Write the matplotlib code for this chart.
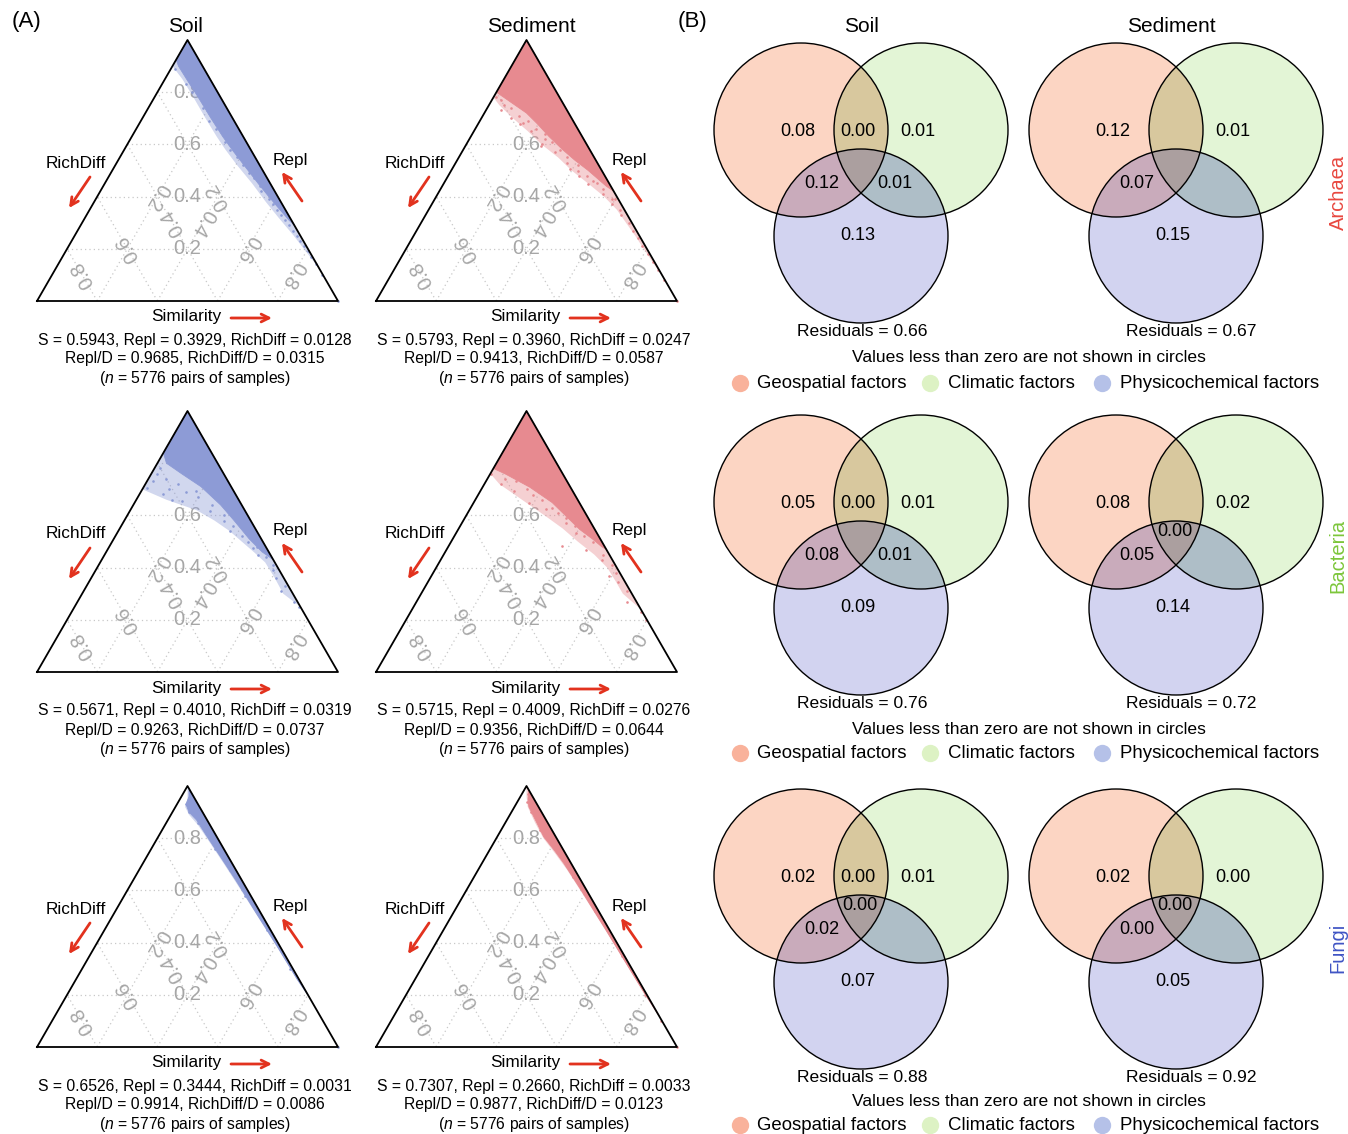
""" Beta-diversity partitioning triangles (A) and variation partitioning Venn diagrams (B). """

import numpy as np
import matplotlib
matplotlib.use('Agg')
import matplotlib.pyplot as plt
from matplotlib.patches import Circle, Polygon

plt.rcParams['font.family'] = ['Liberation Sans', 'DejaVu Sans']
plt.rcParams['mathtext.fontset'] = 'custom'
plt.rcParams['mathtext.it'] = 'Liberation Sans:italic'
plt.rcParams['mathtext.rm'] = 'Liberation Sans'

# Panels run row by row: Soil / Sediment for Archaea, Bacteria, Fungi
habitats = ['Soil', 'Sediment']
groups = ['Archaea', 'Bacteria', 'Fungi']
group_colors = ['#e8473f', '#7cc63a', '#3f54c4']

# ---- (A) mean components of the pairwise beta diversity
mean_S = [0.5943, 0.5793, 0.5671, 0.5715, 0.6526, 0.7307]
mean_repl = [0.3929, 0.3960, 0.4010, 0.4009, 0.3444, 0.2660]
mean_richdiff = [0.0128, 0.0247, 0.0319, 0.0276, 0.0031, 0.0033]
repl_over_D = [0.9685, 0.9413, 0.9263, 0.9356, 0.9914, 0.9877]
richdiff_over_D = [0.0315, 0.0587, 0.0737, 0.0644, 0.0086, 0.0123]
n_pairs = 5776

# Outer limit of each point cloud: (Similarity, RichDiff) pairs running down
# from the top corner; the rest of the outline is the Repl edge (RichDiff = 0).
cloud_outer = [
    ([1.0, 0.90, 0.85, 0.78, 0.70, 0.63, 0.58, 0.52, 0.45, 0.38, 0.32, 0.25, 0.18, 0.12],
     [0.0, 0.10, 0.092, 0.09, 0.09, 0.088, 0.084, 0.075, 0.06, 0.05, 0.038, 0.022, 0.01, 0.0]),
    ([1.0, 0.78, 0.75, 0.70, 0.65, 0.60, 0.55, 0.50, 0.45, 0.40, 0.35, 0.25, 0.15, 0.08],
     [0.0, 0.22, 0.215, 0.195, 0.17, 0.15, 0.12, 0.10, 0.07, 0.042, 0.025, 0.014, 0.007, 0.0]),
    ([1.0, 0.70, 0.66, 0.62, 0.58, 0.54, 0.50, 0.46, 0.42, 0.36, 0.30, 0.25],
     [0.0, 0.30, 0.24, 0.16, 0.12, 0.09, 0.07, 0.05, 0.032, 0.03, 0.032, 0.0]),
    ([1.0, 0.76, 0.72, 0.68, 0.64, 0.60, 0.55, 0.50, 0.45, 0.40, 0.35, 0.30, 0.24],
     [0.0, 0.24, 0.23, 0.20, 0.17, 0.14, 0.105, 0.08, 0.05, 0.032, 0.03, 0.03, 0.0]),
    ([1.0, 0.95, 0.92, 0.89, 0.85, 0.78, 0.70, 0.60, 0.50, 0.40, 0.30, 0.22, 0.19],
     [0.0, 0.025, 0.048, 0.05, 0.04, 0.034, 0.028, 0.022, 0.017, 0.012, 0.008, 0.005, 0.0]),
    ([1.0, 0.96, 0.92, 0.86, 0.80, 0.74, 0.68, 0.60, 0.45, 0.30, 0.18, 0.10],
     [0.0, 0.02, 0.036, 0.042, 0.044, 0.034, 0.026, 0.021, 0.014, 0.009, 0.005, 0.0]),
]

# Limit of the dense part of each cloud, same convention
cloud_core = [
    ([1.0, 0.925, 0.90, 0.85, 0.78, 0.70, 0.63, 0.58, 0.52, 0.45, 0.40, 0.35, 0.31, 0.29],
     [0.0, 0.075, 0.08, 0.078, 0.074, 0.072, 0.068, 0.062, 0.052, 0.04, 0.03, 0.018, 0.008, 0.0]),
    ([1.0, 0.80, 0.76, 0.72, 0.68, 0.63, 0.58, 0.54, 0.50, 0.47, 0.44, 0.42],
     [0.0, 0.20, 0.17, 0.14, 0.125, 0.11, 0.09, 0.07, 0.045, 0.03, 0.015, 0.0]),
    ([1.0, 0.84, 0.80, 0.76, 0.71, 0.64, 0.58, 0.51, 0.46, 0.43],
     [0.0, 0.16, 0.17, 0.14, 0.10, 0.07, 0.055, 0.04, 0.022, 0.0]),
    ([1.0, 0.78, 0.758, 0.708, 0.649, 0.597, 0.546, 0.508, 0.48, 0.47],
     [0.0, 0.22, 0.19, 0.135, 0.09, 0.07, 0.05, 0.025, 0.01, 0.0]),
    ([0.99, 0.96, 0.93, 0.90, 0.87, 0.81, 0.73, 0.64, 0.51, 0.385, 0.26, 0.20],
     [0.0, 0.015, 0.04, 0.045, 0.035, 0.032, 0.026, 0.02, 0.015, 0.009, 0.006, 0.0]),
    ([0.985, 0.95, 0.92, 0.86, 0.806, 0.75, 0.704, 0.602, 0.448, 0.30, 0.20, 0.12],
     [0.0, 0.02, 0.032, 0.036, 0.04, 0.03, 0.024, 0.018, 0.012, 0.008, 0.005, 0.0]),
]

# Scattered sample pairs lying apart from the clouds: (Similarity, RichDiff)
loose_points = [
    ([0.89, 0.83, 0.80, 0.74, 0.69, 0.66, 0.61, 0.58, 0.55, 0.52, 0.49, 0.47, 0.44, 0.42,
      0.39, 0.37, 0.35, 0.33, 0.31, 0.29, 0.27, 0.25, 0.23, 0.21, 0.19, 0.17, 0.14, 0.10, 0.0],
     [0.095, 0.09, 0.085, 0.08, 0.082, 0.075, 0.07, 0.068, 0.062, 0.055, 0.05, 0.045, 0.04,
      0.045, 0.035, 0.03, 0.028, 0.025, 0.02, 0.018, 0.015, 0.01, 0.012, 0.008, 0.005, 0.006,
      0.003, 0.002, 0.0]),
    ([0.80, 0.78, 0.77, 0.75, 0.74, 0.73, 0.71, 0.70, 0.69, 0.683, 0.68, 0.66, 0.65, 0.64,
      0.62, 0.61, 0.60, 0.593, 0.58, 0.57, 0.55, 0.53, 0.52, 0.504, 0.50, 0.478, 0.48, 0.46,
      0.453, 0.45, 0.43, 0.41, 0.39, 0.39, 0.37, 0.35, 0.33, 0.30, 0.27, 0.24, 0.21, 0.18,
      0.15, 0.12, 0.08, 0.0],
     [0.19, 0.21, 0.20, 0.20, 0.18, 0.22, 0.17, 0.20, 0.15, 0.17, 0.18, 0.14, 0.16, 0.12,
      0.13, 0.11, 0.15, 0.154, 0.10, 0.12, 0.09, 0.10, 0.07, 0.105, 0.08, 0.085, 0.06, 0.05,
      0.04, 0.07, 0.03, 0.04, 0.02, 0.012, 0.03, 0.015, 0.02, 0.01, 0.012, 0.008, 0.01,
      0.005, 0.006, 0.003, 0.004, 0.0]),
    ([0.706, 0.732, 0.681, 0.655, 0.694, 0.617, 0.54, 0.475, 0.41, 0.36, 0.309, 0.78, 0.76,
      0.74, 0.72, 0.70, 0.69, 0.67, 0.66, 0.64, 0.60, 0.58, 0.56, 0.52, 0.50, 0.48, 0.45,
      0.44, 0.39, 0.33, 0.27, 0.25],
     [0.28, 0.25, 0.24, 0.19, 0.124, 0.118, 0.09, 0.045, 0.01, 0.025, 0.034, 0.20, 0.22,
      0.20, 0.17, 0.21, 0.16, 0.13, 0.22, 0.10, 0.08, 0.09, 0.07, 0.06, 0.05, 0.03, 0.04,
      0.02, 0.02, 0.01, 0.012, 0.005]),
    ([0.758, 0.719, 0.694, 0.649, 0.623, 0.572, 0.533, 0.482, 0.469, 0.431, 0.379, 0.346,
      0.269, 0.367, 0.74, 0.73, 0.70, 0.68, 0.66, 0.63, 0.61, 0.59, 0.56, 0.52, 0.50, 0.45,
      0.41, 0.31, 0.23, 0.20],
     [0.238, 0.224, 0.193, 0.168, 0.125, 0.084, 0.07, 0.14, 0.069, 0.033, 0.014, 0.022,
      0.033, 0.043, 0.20, 0.17, 0.15, 0.14, 0.12, 0.10, 0.09, 0.075, 0.06, 0.05, 0.03, 0.02,
      0.01, 0.01, 0.006, 0.004]),
    ([0.93, 0.90, 0.86, 0.76, 0.68, 0.58, 0.45, 0.30, 0.0],
     [0.04, 0.045, 0.035, 0.028, 0.02, 0.018, 0.012, 0.008, 0.0]),
    ([0.97, 0.94, 0.90, 0.83, 0.75, 0.65, 0.52, 0.35, 0.20, 0.10, 0.0],
     [0.01, 0.03, 0.035, 0.04, 0.025, 0.02, 0.014, 0.008, 0.006, 0.002, 0.0]),
]
cloud_colors = ['#8d9bd6', '#e78a90']   # Soil, Sediment
grid_ticks = [0.2, 0.4, 0.6, 0.8]

# ---- (B) variation partitioning fractions (None = not shown)
venn_geo = [0.08, 0.12, 0.05, 0.08, 0.02, 0.02]
venn_clim = [0.01, 0.01, 0.01, 0.02, 0.01, 0.00]
venn_phys = [0.13, 0.15, 0.09, 0.14, 0.07, 0.05]
venn_geo_clim = [0.00, None, 0.00, None, 0.00, None]
venn_geo_phys = [0.12, 0.07, 0.08, 0.05, 0.02, 0.00]
venn_clim_phys = [0.01, None, 0.01, None, None, None]
venn_all = [None, None, None, 0.00, 0.00, 0.00]
residuals = [0.66, 0.67, 0.76, 0.72, 0.88, 0.92]
factor_names = ['Geospatial factors', 'Climatic factors', 'Physicochemical factors']
factor_colors = ['#f9b29b', '#ddf2c4', '#b5c1e8']

W, H = 1348, 1134
SQ = np.sqrt(3) / 2
ARROW_RED = '#e2321e'
GRID_GRAY = '#a6a6a6'


def to_xy(s, rd):
    """Similarity at the top corner, Repl bottom right, RichDiff bottom left."""
    s, rd = np.asarray(s, float), np.asarray(rd, float)
    return 1 - 0.5 * s - rd, SQ * s


fig = plt.figure(figsize=(W / 100, H / 100), dpi=100)

# Page-sized axes in pixel units for the text, arrows and Venn circles
page = fig.add_axes([0, 0, 1, 1])
page.set_xlim(0, W)
page.set_ylim(H, 0)
page.axis('off')
page.patch.set_visible(False)


def arrow(x0, y0, x1, y1):
    page.annotate('', xy=(x1, y1), xytext=(x0, y0),
                  arrowprops=dict(arrowstyle='->', color=ARROW_RED, lw=2,
                                  mutation_scale=14, shrinkA=0, shrinkB=0))


page.text(12, 22, '(A)', fontsize=16, ha='left', va='center')
page.text(678, 22, '(B)', fontsize=16, ha='left', va='center')

# ---------------------------------------------------------------- (A)
tri_left = [37, 376]
tri_base = [301, 672, 1047]
tri_w, tri_h = 301, 261
page.text(185, 27, 'Soil', fontsize=15, ha='center', va='center')
page.text(531, 27, 'Sediment', fontsize=15, ha='center', va='center')

for i in range(6):
    row, col = divmod(i, 2)
    lx, by = tri_left[col], tri_base[row]
    ax = fig.add_axes([lx / W, 1 - by / H, tri_w / W, tri_h / H])
    ax.set_xlim(0, 1)
    ax.set_ylim(0, SQ)
    ax.axis('off')

    # dotted grid for the three components, with the tick values on the medians
    for v in grid_ticks:
        for s_pair, rd_pair in [((v, v), (1 - v, 0)), ((0, 1 - v), (v, v)), ((0, 1 - v), (1 - v, 0))]:
            gx, gy = to_xy(s_pair, rd_pair)
            ax.plot(gx, gy, ls=(0, (1, 2.5)), color='#c8c8c8', lw=0.9, zorder=1)
        lab = f'{v:.1f}'
        ax.text(0.5, SQ * v, lab, color=GRID_GRAY, fontsize=14.5, ha='center', va='center', zorder=2)
        ax.text(0.75 * (1 - v), SQ * (1 - v) / 2, lab, color=GRID_GRAY, fontsize=14.5,
                ha='center', va='center', rotation=120, rotation_mode='anchor', zorder=2)
        ax.text(v + 0.25 * (1 - v), SQ * (1 - v) / 2, lab, color=GRID_GRAY, fontsize=14.5,
                ha='center', va='center', rotation=240, rotation_mode='anchor', zorder=2)

    color = cloud_colors[col]
    ox, oy = to_xy(*cloud_outer[i])
    ax.add_patch(Polygon(np.column_stack([ox, oy]), closed=True, facecolor=color,
                         edgecolor='none', alpha=0.4, zorder=3, clip_on=False))
    cx, cy = to_xy(*cloud_core[i])
    ax.add_patch(Polygon(np.column_stack([cx, cy]), closed=True, facecolor=color,
                         edgecolor=color, lw=0.6, zorder=3, clip_on=False))
    px, py = to_xy(*loose_points[i])
    ax.scatter(px, py, s=3.5, marker='o', color=color, linewidths=0, zorder=3, clip_on=False)

    ax.plot([0, 1, 0.5, 0], [0, 0, SQ, 0], color='black', lw=1.3, zorder=4, clip_on=False)

    # axis names, arrows and the mean values underneath
    page.text(lx + 149, by + 16, 'Similarity', fontsize=12.4, ha='center', va='center')
    arrow(lx + 194, by + 17, lx + 235, by + 17)
    page.text(lx + 38.5, by - 138, 'RichDiff', fontsize=12.4, ha='center', va='center')
    arrow(lx + 53, by - 124, lx + 32, by - 93)
    page.text(lx + 253, by - 141, 'Repl', fontsize=12.4, ha='center', va='center')
    arrow(lx + 265, by - 100, lx + 245, by - 129)

    tx = lx + 158
    page.text(tx, by + 39, f'S = {mean_S[i]:.4f}, Repl = {mean_repl[i]:.4f}, '
              f'RichDiff = {mean_richdiff[i]:.4f}', fontsize=11.3, ha='center', va='center')
    page.text(tx, by + 58, f'Repl/D = {repl_over_D[i]:.4f}, RichDiff/D = {richdiff_over_D[i]:.4f}',
              fontsize=11.3, ha='center', va='center')
    page.text(tx, by + 77.5, f'($n$ = {n_pairs} pairs of samples)', fontsize=11.3,
              ha='center', va='center')

# ---------------------------------------------------------------- (B)
venn_x = [801, 1116]
venn_y = [130, 502, 876]
resid_dx = [61, 75]
note_dy = [228, 227, 225]
legend_dy = [253, 251, 249]
R, D, DY = 87, 120, 106
fill_geo, fill_clim, fill_phys = '#fcd5c3', '#e3f5d6', '#d2d3f0'
fill_gc, fill_gp, fill_cp, fill_all = '#d8c89e', '#c9abbb', '#aebec7', '#ab9f9f'

page.text(861, 26, 'Soil', fontsize=15, ha='center', va='center')
page.text(1171, 27, 'Sediment', fontsize=15, ha='center', va='center')


def lens(x0, y0):
    """Overlap of the two upper circles as a polygon."""
    th = np.arccos(D / 2 / R)
    a = np.linspace(-th, th, 60)
    b = np.linspace(np.pi - th, np.pi + th, 60)
    xs = np.concatenate([x0 + R * np.cos(a), x0 + D + R * np.cos(b)])
    ys = np.concatenate([y0 + R * np.sin(a), y0 + R * np.sin(b)])
    return np.column_stack([xs, ys])


for i in range(6):
    row, col = divmod(i, 2)
    x0, y0 = venn_x[col], venn_y[row]
    centers = [(x0, y0), (x0 + D, y0), (x0 + D / 2, y0 + DY)]

    for (ccx, ccy), fc in zip(centers, [fill_geo, fill_clim, fill_phys]):
        page.add_patch(Circle((ccx, ccy), R, facecolor=fc, edgecolor='none', zorder=1))
    page.add_patch(Polygon(lens(x0, y0), closed=True, facecolor=fill_gc, edgecolor='none', zorder=2))
    for k, fc in [(0, fill_gp), (1, fill_cp)]:
        blob = Circle(centers[2], R, facecolor=fc, edgecolor='none', zorder=2)
        page.add_patch(blob)
        blob.set_clip_path(Circle(centers[k], R, transform=page.transData))
    mid = Polygon(lens(x0, y0), closed=True, facecolor=fill_all, edgecolor='none', zorder=3)
    page.add_patch(mid)
    mid.set_clip_path(Circle(centers[2], R, transform=page.transData))
    for ccx, ccy in centers:
        page.add_patch(Circle((ccx, ccy), R, facecolor='none', edgecolor='black', lw=1.0, zorder=4))

    fractions = [
        (venn_geo[i], -3, 2), (venn_clim[i], 117, 2), (venn_phys[i], 57, 106),
        (venn_geo_clim[i], 57, 2), (venn_geo_phys[i], 21, 54),
        (venn_clim_phys[i], 94, 54), (venn_all[i], 59, 30),
    ]
    for val, dx, dy in fractions:
        if val is not None:
            page.text(x0 + dx, y0 + dy, f'{val:.2f}', fontsize=13, ha='center', va='center', zorder=5)
    page.text(x0 + resid_dx[col], y0 + 202, f'Residuals = {residuals[i]:.2f}', fontsize=12.6,
              ha='center', va='center')

for row in range(3):
    y0 = venn_y[row]
    page.text(1029, y0 + note_dy[row], 'Values less than zero are not shown in circles',
              fontsize=12.6, ha='center', va='center')
    ly = y0 + legend_dy[row]
    for mx, tx, name, fc in zip([740, 930, 1102], [757, 948, 1120], factor_names, factor_colors):
        page.plot(mx, ly, 'o', ms=12.5, color=fc, mec='none')
        page.text(tx, ly, name, fontsize=13.4, ha='left', va='center')

for y, name, c in zip([192, 556, 948], groups, group_colors):
    page.text(1338, y, name, color=c, fontsize=14.5, rotation=90, ha='center', va='center')

fig.savefig('out.png', dpi=100)
